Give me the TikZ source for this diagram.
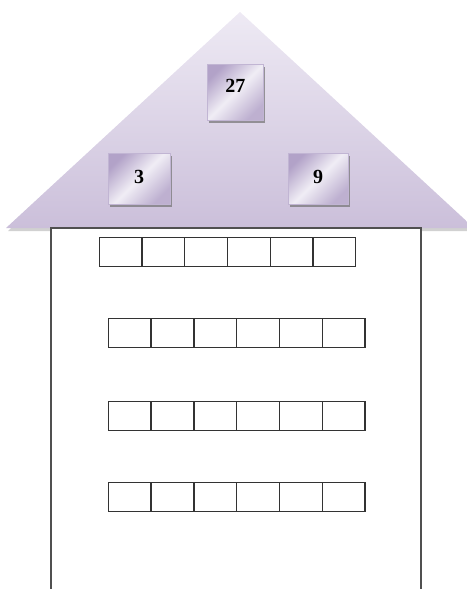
\documentclass[tikz,border=0pt]{standalone}
\usepackage{fontspec}
\setmainfont{Liberation Serif}
\usepackage{tikz}
\usetikzlibrary{shadows}
\definecolor{rooflight}{RGB}{238, 234, 244}
\definecolor{roofdark}{RGB}{203, 191, 218}
\definecolor{tiledark}{RGB}{178, 162, 200}
\definecolor{tilelight}{RGB}{240, 237, 245}
\definecolor{wallgray}{RGB}{80, 80, 80}

\tikzset{
    tile/.style={rectangle, inner sep=0pt, draw=tiledark!80, line width=0.4pt,
        shading=axis, top color=tiledark, bottom color=tiledark!85, middle color=tilelight, shading angle=45,
        drop shadow={shadow xshift=2pt, shadow yshift=-2.5pt, fill=black!55, opacity=0.7},
        font=\fontsize{20}{22}\selectfont\bfseries, text height=14pt, text depth=#1},
    tile/.default=5pt,
    cellbox/.style={rectangle, draw=black!80, line width=1.3pt, inner sep=0pt,
        minimum width=42.7pt, minimum height=29pt}
}

\begin{document}
\begin{tikzpicture}[x=1pt,y=-1pt]
    \useasboundingbox (0,0) rectangle (466,589);

    % roof
    \fill[black!30, opacity=0.6] (240,15) -- (8,231) -- (476,231) -- cycle;
    \shade[top color=rooflight, bottom color=roofdark] (240,12) -- (6,228) -- (474,228) -- cycle;

    % house front
    \filldraw[fill=white, draw=wallgray, line width=1.4pt] (51,595) -- (51,228) -- (421,228) -- (421,595);

    % numbers on the roof
    \node[tile=13.4pt, minimum width=56pt, minimum height=56pt] (t27) at (235.3,92) {27};
    \node[tile, minimum width=62pt, minimum height=51pt] (t3) at (139,178.5) {3};
    \node[tile, minimum width=60pt, minimum height=51pt] (t9) at (318,178.5) {9};

    % rows of cells
    \foreach \i in {1,...,6} {
        \node[cellbox] (ra\i) at ({120.7+42.73*(\i-1)},252) {};
        \node[cellbox] (rb\i) at ({129.7+42.78*(\i-1)},333) {};
        \node[cellbox] (rc\i) at ({129.7+42.78*(\i-1)},415.7) {};
        \node[cellbox] (rd\i) at ({129.7+42.78*(\i-1)},497.2) {};
    }
\end{tikzpicture}
\end{document}
